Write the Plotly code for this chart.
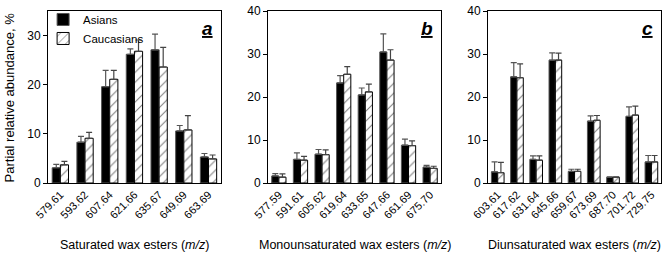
import plotly.graph_objects as go

# Panel a: saturated wax esters
cats_a = ["579.61", "593.62", "607.64", "621.66", "635.67", "649.69", "663.69"]
asian_a = [3.1, 8.3, 19.6, 26.2, 27.1, 10.6, 5.3]
asian_a_err = [0.7, 1.2, 3.3, 1.1, 3.2, 1.1, 0.7]
cauc_a = [3.7, 9.1, 21.1, 26.8, 23.6, 10.8, 4.9]
cauc_a_err = [0.7, 1.2, 1.8, 2.3, 4.0, 2.9, 0.8]

# Panel b: monounsaturated wax esters
cats_b = ["577.59", "591.61", "605.62", "619.64", "633.65", "647.66", "661.69", "675.70"]
asian_b = [1.65, 5.5, 6.7, 23.3, 20.5, 30.5, 8.8, 3.7]
asian_b_err = [0.55, 1.5, 1.1, 1.7, 1.6, 4.2, 1.4, 0.4]
cauc_b = [1.35, 5.3, 6.6, 25.3, 21.2, 28.6, 8.7, 3.4]
cauc_b_err = [0.75, 0.9, 1.1, 1.8, 1.8, 2.4, 1.1, 0.5]

# Panel c: diunsaturated wax esters
cats_c = ["603.61", "617.62", "631.64", "645.66", "659.67", "673.69", "687.70", "701.72", "729.75"]
asian_c = [2.6, 24.7, 5.5, 28.6, 2.7, 14.4, 1.35, 15.5, 4.9]
asian_c_err = [2.3, 3.3, 0.8, 1.7, 0.5, 1.2, 0.1, 2.2, 1.5]
cauc_c = [2.4, 24.5, 5.3, 28.6, 2.7, 14.6, 1.35, 15.8, 4.9]
cauc_c_err = [2.4, 3.2, 1.0, 1.6, 0.5, 1.1, 0.1, 2.1, 1.5]

panels = [
    (cats_a, asian_a, asian_a_err, cauc_a, cauc_a_err, "x", "y", True),
    (cats_b, asian_b, asian_b_err, cauc_b, cauc_b_err, "x2", "y2", False),
    (cats_c, asian_c, asian_c_err, cauc_c, cauc_c_err, "x3", "y3", False),
]

fig = go.Figure()
for cats, a, ae, c, ce, xa, ya, show in panels:
    fig.add_trace(go.Bar(
        x=cats, y=a, name="Asians", xaxis=xa, yaxis=ya, showlegend=show,
        marker=dict(color="black", line=dict(color="#555555", width=1)),
        error_y=dict(type="data", symmetric=False, array=ae, arrayminus=[0] * len(ae),
                     color="#555555", thickness=1.2, width=3),
    ))
    fig.add_trace(go.Bar(
        x=cats, y=c, name="Caucasians", xaxis=xa, yaxis=ya, showlegend=show,
        marker=dict(color="white", line=dict(color="black", width=1),
                    pattern=dict(shape="/", fgcolor="black", bgcolor="white", size=7, solidity=0.15)),
        error_y=dict(type="data", symmetric=False, array=ce, arrayminus=[0] * len(ce),
                     color="#444444", thickness=1.2, width=3),
    ))

font = dict(family="Liberation Sans, Arial, sans-serif", color="black")
axis_common = dict(showline=True, linecolor="black", linewidth=1, mirror=True,
                   showgrid=False, zeroline=False)
xcommon = dict(axis_common, tickangle=-45, ticks="", tickfont=dict(size=11, **font))
ycommon = dict(axis_common, ticks="outside", ticklen=4, tickcolor="black",
               tickfont=dict(size=12, **font))

fig.update_layout(
    width=667, height=254,
    margin=dict(l=48, r=6, t=5, b=71),
    paper_bgcolor="white", plot_bgcolor="white",
    barmode="group", bargap=0.34, bargroupgap=0.0,
    font=font,
    xaxis=dict(xcommon, domain=[0, 0.282], anchor="y"),
    xaxis2=dict(xcommon, domain=[0.359, 0.641], anchor="y2"),
    xaxis3=dict(xcommon, domain=[0.718, 1.0], anchor="y3"),
    yaxis=dict(ycommon, range=[0, 35], tickvals=[0, 10, 20, 30], anchor="x"),
    yaxis2=dict(ycommon, range=[0, 40.02], tickvals=[0, 10, 20, 30, 40], anchor="x2"),
    yaxis3=dict(ycommon, range=[0, 40.02], tickvals=[0, 10, 20, 30, 40], anchor="x3"),
    legend=dict(x=-0.008, y=1.035, xanchor="left", yanchor="top", bgcolor="rgba(0,0,0,0)",
                font=dict(size=11.5, **font), tracegroupgap=0, itemwidth=30),
)

titles = [
    ("Saturated wax esters (<i>m/z</i>)", 0.141),
    ("Monounsaturated wax esters (<i>m/z</i>)", 0.5),
    ("Diunsaturated wax esters (<i>m/z</i>)", 0.859),
]
for t, xc in titles:
    fig.add_annotation(text=t, x=xc, y=-0.36, xref="paper", yref="paper",
                       xanchor="center", yanchor="middle", showarrow=False,
                       font=dict(size=12.5, **font))

for letter, xr in [("a", 0.272), ("b", 0.631), ("c", 0.99)]:
    fig.add_annotation(text=f"<b><i><u>{letter}</u></i></b>", x=xr, y=0.97, xref="paper", yref="paper",
                       xanchor="right", yanchor="top", showarrow=False,
                       font=dict(size=19, **font))

fig.add_annotation(text="Partial relative abundance, %", x=-0.063, y=0.5, xref="paper",
                   yref="paper", xanchor="center", yanchor="middle", textangle=-90,
                   showarrow=False, font=dict(size=13, **font))

fig.write_html("out.html", config={"displayModeBar": False},
               post_script="document.body.style.margin='0';document.body.style.overflow='hidden';")
